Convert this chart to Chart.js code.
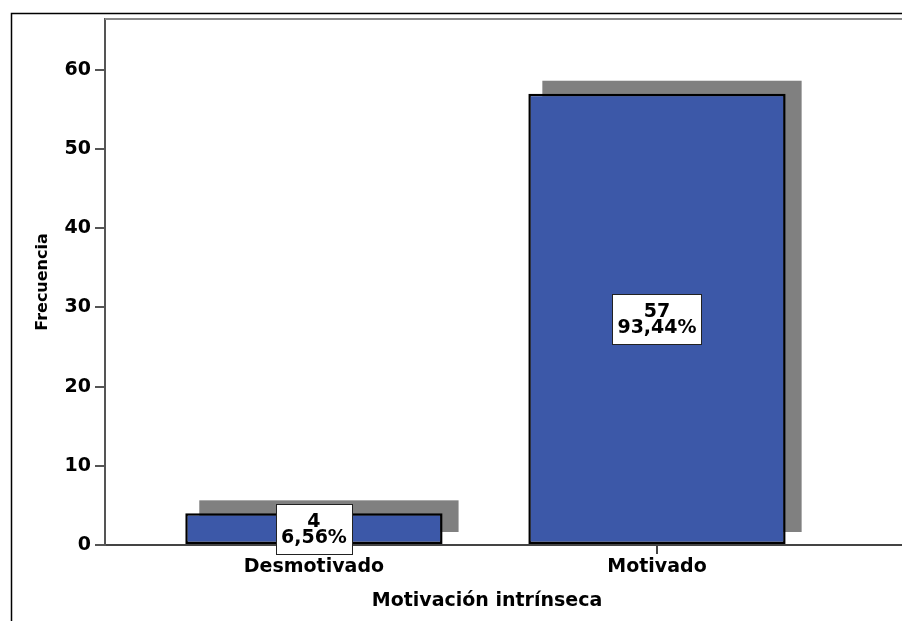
<!DOCTYPE html>
<html><head><meta charset="utf-8">
<script src="https://cdn.jsdelivr.net/npm/chart.js@4.4.1/dist/chart.umd.min.js"></script>
<style>html,body{margin:0;padding:0;background:#fff}canvas{display:block}</style>
</head><body>
<canvas id="c" width="902" height="621"></canvas>
<script>
const categories = ['Desmotivado', 'Motivado'];
const frequencies = [4, 57];
const percentages = ['6,56%', '93,44%'];
const yTicks = [0, 10, 20, 30, 40, 50, 60];
const xTitle = 'Motivación intrínseca';
const yTitle = 'Frecuencia';

const FONT = '"DejaVu Sans", "Liberation Sans", sans-serif';
Chart.defaults.font.family = FONT;
Chart.defaults.color = '#000';

const shadowPlugin = {
  id: 'shadow',
  beforeDatasetsDraw(chart) {
    const ctx = chart.ctx;
    const meta = chart.getDatasetMeta(0);
    ctx.save();
    ctx.fillStyle = '#808080';
    meta.data.forEach(bar => {
      const p = bar.getProps(['x', 'y', 'base', 'width'], true);
      const top = p.y - 13, bottom = p.base - 12;
      ctx.fillRect(p.x - p.width / 2 + 14, top, p.width + 2, bottom - top);
    });
    ctx.restore();
  }
};

const labelPlugin = {
  id: 'boxLabels',
  afterDatasetsDraw(chart) {
    const ctx = chart.ctx;
    const meta = chart.getDatasetMeta(0);
    ctx.save();
    ctx.font = 'bold 19px ' + FONT;
    meta.data.forEach((bar, i) => {
      const p = bar.getProps(['x', 'y', 'base'], true);
      const cx = p.x, cy = (p.y + p.base) / 2;
      const l1 = String(frequencies[i]), l2 = percentages[i];
      const w = Math.max(ctx.measureText(l1).width, ctx.measureText(l2).width) + 10;
      const top = Math.round(cy - 25) + 0.5, h = 50;
      ctx.fillStyle = '#fff';
      ctx.fillRect(Math.round(cx - w / 2) + 0.5, top, Math.round(w), h);
      ctx.strokeStyle = '#222';
      ctx.lineWidth = 1;
      ctx.strokeRect(Math.round(cx - w / 2) + 0.5, top, Math.round(w), h);
      ctx.fillStyle = '#000';
      ctx.textAlign = 'center';
      ctx.textBaseline = 'alphabetic';
      ctx.fillText(l1, cx, cy - 2);
      ctx.fillText(l2, cx, cy + 14);
    });
    ctx.restore();
  }
};

const framePlugin = {
  id: 'frame',
  afterDraw(chart) {
    const ctx = chart.ctx;
    const a = chart.chartArea;
    const W = chart.width, H = chart.height;
    ctx.save();
    ctx.strokeStyle = '#000';
    ctx.lineWidth = 1.5;
    ctx.beginPath();
    ctx.moveTo(11.5, H);
    ctx.lineTo(11.5, 13.5);
    ctx.lineTo(W, 13.5);
    ctx.stroke();
    ctx.strokeStyle = '#888';
    ctx.lineWidth = 2;
    ctx.beginPath();
    ctx.moveTo(a.left, a.top);
    ctx.lineTo(W, a.top);
    ctx.stroke();
    ctx.strokeStyle = '#444';
    ctx.lineWidth = 2;
    ctx.beginPath();
    ctx.moveTo(a.right - 1, a.bottom);
    ctx.lineTo(W, a.bottom);
    ctx.stroke();
    ctx.restore();
  }
};

new Chart(document.getElementById('c'), {
  type: 'bar',
  data: {
    datasets: [{
      data: categories.map((c, i) => ({ x: i, y: frequencies[i] })),
      backgroundColor: '#3c58a8',
      borderColor: '#000',
      borderWidth: 2.5,
      borderSkipped: false,
      barPercentage: 0.75,
      categoryPercentage: 1
    }]
  },
  options: {
    responsive: false,
    devicePixelRatio: 1,
    animation: false,
    layout: { padding: { top: 19, right: 33, left: 0, bottom: 0 } },
    plugins: { legend: { display: false }, tooltip: { enabled: false } },
    scales: {
      x: {
        type: 'linear',
        min: -0.609,
        max: 1.618,
        offset: false,
        afterBuildTicks: s => { s.ticks = categories.map((c, i) => ({ value: i })); },
        afterFit: s => { s.height = 76; },
        ticks: {
          callback: v => categories[v],
          font: { size: 19, weight: 'bold' },
          color: '#000',
          padding: 2,
          maxRotation: 0,
          autoSkip: false
        },
        grid: { offset: false, drawOnChartArea: false, tickLength: 9, color: '#444', lineWidth: 2 },
        border: { color: '#444', width: 2 },
        title: {
          display: true,
          text: xTitle,
          font: { size: 19, weight: 'bold' },
          color: '#000',
          padding: { top: 0, bottom: 9 }
        }
      },
      y: {
        min: 0,
        max: 66.44,
        afterBuildTicks: s => { s.ticks = yTicks.map(v => ({ value: v })); },
        afterFit: s => { s.width = 105; },
        ticks: {
          font: { size: 19, weight: 'bold' },
          color: '#000',
          padding: 4
        },
        grid: { drawOnChartArea: false, tickLength: 10, color: '#555', lineWidth: 2 },
        border: { color: '#555', width: 2 },
        title: {
          display: true,
          text: yTitle,
          font: { size: 16, weight: 'bold' },
          color: '#000',
          padding: { top: 33, bottom: 0 }
        }
      }
    }
  },
  plugins: [shadowPlugin, labelPlugin, framePlugin]
});
</script>
</body></html>
